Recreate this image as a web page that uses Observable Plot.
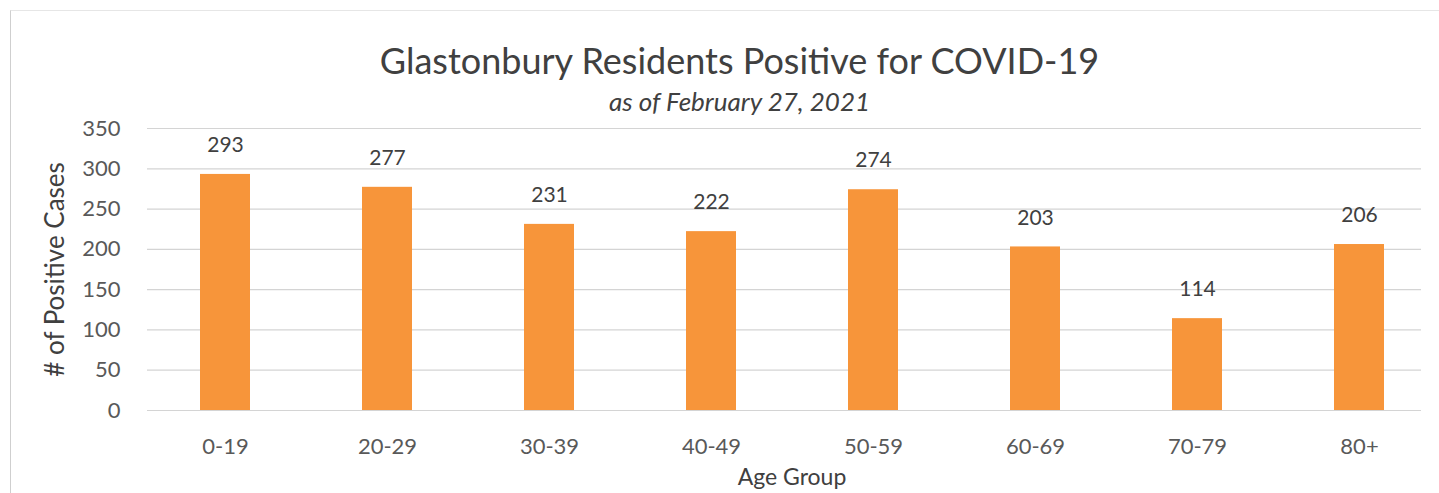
<!DOCTYPE html>
<html>
<head>
<meta charset="utf-8">
<script src="https://cdn.jsdelivr.net/npm/d3@7"></script>
<script src="https://cdn.jsdelivr.net/npm/@observablehq/plot@0.6"></script>
<style>
  html, body { margin: 0; padding: 0; background: #fff; }
  #wrap { position: relative; width: 1439px; height: 493px; overflow: hidden; font-family: Lato, "Open Sans", sans-serif; color: #404040; }
  #frame { position: absolute; left: 10px; top: 10px; width: 1440px; height: 500px; border-left: 1px solid #cfcfcf; border-top: 1px solid #e6e6e6; }
  #title { position: absolute; left: 0; width: 1479px; top: 40px; text-align: center; font-size: 36px; line-height: 40px; color: #404040; }
  #subtitle { position: absolute; left: 0; width: 1479px; top: 86px; text-align: center; font-size: 26px; line-height: 30px; font-style: italic; color: #404040; }
  #chart { position: absolute; left: 0; top: 110px; }
</style>
</head>
<body>
<div id="wrap">
  <div id="frame"></div>
  <div id="title">Glastonbury Residents Positive for COVID-19</div>
  <div id="subtitle">as of February 27, 2021</div>
  <div id="chart"></div>
</div>
<script>
const ageGroups = ["0-19", "20-29", "30-39", "40-49", "50-59", "60-69", "70-79", "80+"];
const cases = [293, 277, 231, 222, 274, 203, 114, 206];
const yTicks = [0, 50, 100, 150, 200, 250, 300, 350];

const data = ageGroups.map((g, i) => ({group: g, value: cases[i]}));

const chart = Plot.plot({
  width: 1439,
  height: 383,
  marginLeft: 144,
  marginRight: 0,
  marginTop: 18,
  marginBottom: 83,
  style: {fontFamily: "Lato, 'Open Sans', sans-serif", fontSize: "22px", color: "#404040", background: "transparent"},
  x: {domain: ageGroups, range: [144, 1441], paddingInner: 0.69, paddingOuter: 0.345, label: null},
  y: {domain: [0, 350], ticks: yTicks, label: null},
  marks: [
    Plot.gridY(yTicks, {stroke: "#d4d4d4", strokeOpacity: 1, strokeWidth: 1.2, insetLeft: 3, insetRight: 18}),
    Plot.barY(data, {x: "group", y: "value", fill: "#F7953A"}),
    Plot.text(data, {x: "group", y: "value", text: d => String(d.value), dy: -29, fontSize: 21, fill: "#404040"}),
    Plot.axisY(yTicks, {tickSize: 0, tickPadding: 24, fontSize: 22, fill: "#595959", label: null}),
    Plot.axisX({tickSize: 0, tickPadding: 28, fontSize: 22, fill: "#595959", label: null}),
    Plot.text(["Age Group"], {frameAnchor: "bottom", dy: 74, fontSize: 23, fill: "#404040"}),
    Plot.text(["# of Positive Cases"], {frameAnchor: "left", dx: -89, rotate: -90, textAnchor: "middle", fontSize: 26, fill: "#404040"})
  ]
});
document.getElementById("chart").appendChild(chart);
</script>
</body>
</html>
